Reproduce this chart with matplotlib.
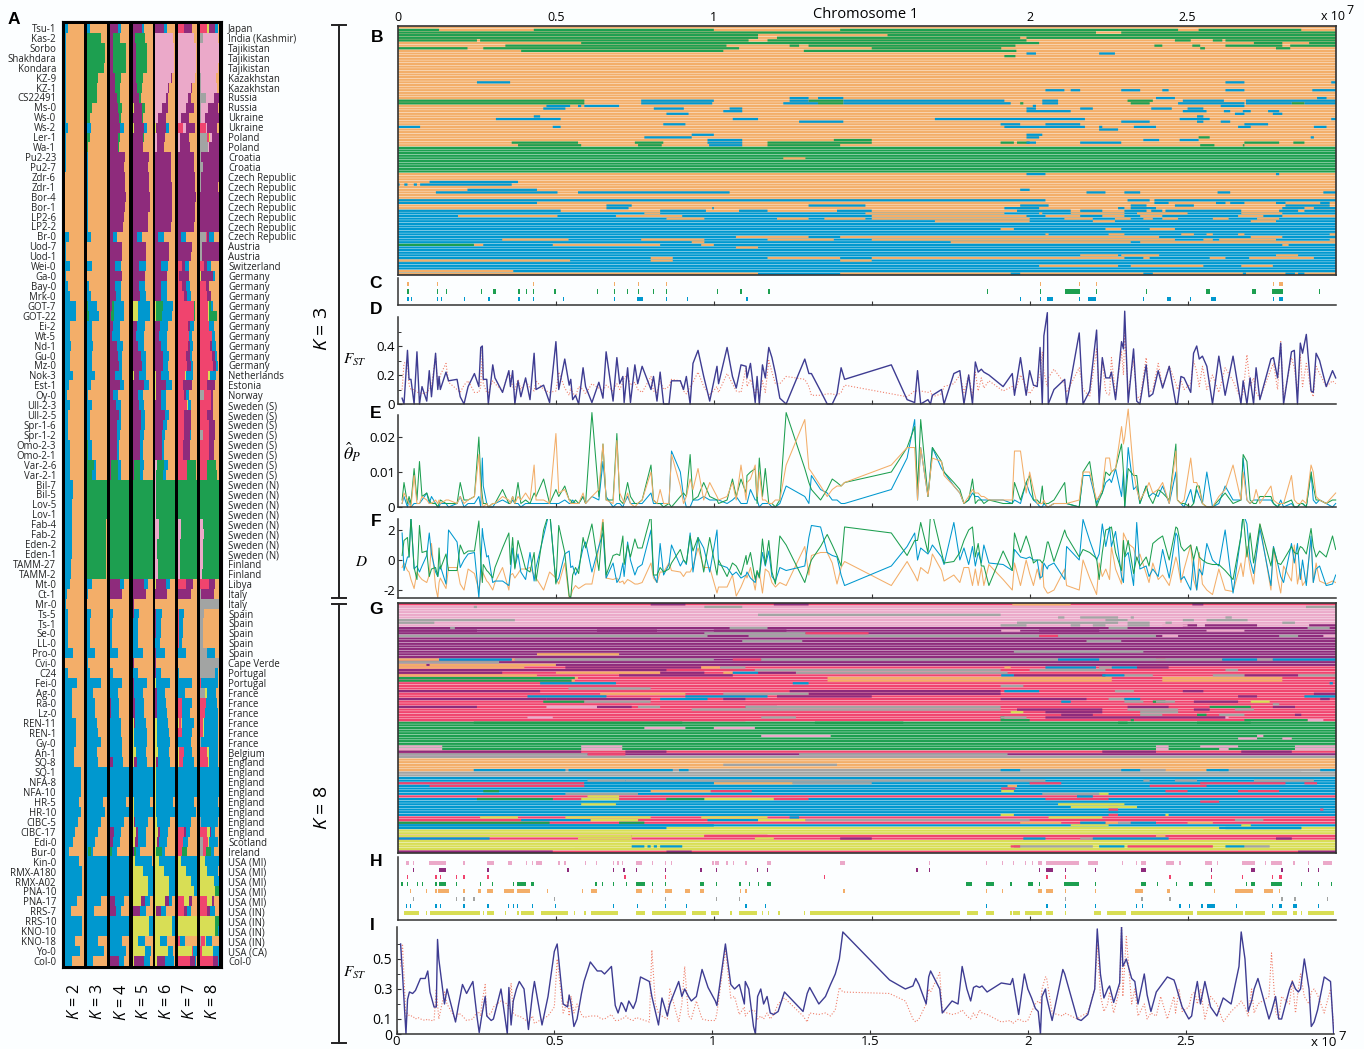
import numpy as np
import matplotlib
matplotlib.use("Agg")
import matplotlib.pyplot as plt
from matplotlib.patches import Rectangle

W, H = 1364, 1049
plt.rcParams['font.family'] = ['Open Sans', 'DejaVu Sans']
plt.rcParams['mathtext.fontset'] = 'custom'
plt.rcParams['mathtext.it'] = 'Open Sans:italic'
plt.rcParams['mathtext.rm'] = 'Open Sans'

ORANGE, BLUE, GREEN = '#F3AE69', '#0098CF', '#1D9F50'
PURPLE, RED, PINK = '#8E2B7C', '#F0446E', '#EBA9C9'
YELLOW, GREY = '#D8DE55', '#A2A4A3'
COL = {'o': ORANGE, 'b': BLUE, 'g': GREEN, 'p': PURPLE, 'r': RED, 'k': PINK, 'y': YELLOW, 'a': GREY}
NAVY, DOTRED = '#3E3C92', '#F0806C'

names = ["Tsu-1","Kas-2","Sorbo","Shakhdara","Kondara","KZ-9","KZ-1","CS22491","Ms-0","Ws-0","Ws-2","Ler-1","Wa-1","Pu2-23","Pu2-7",
"Zdr-6","Zdr-1","Bor-4","Bor-1","LP2-6","LP2-2","Br-0","Uod-7","Uod-1","Wei-0","Ga-0","Bay-0","Mrk-0","GOT-7","GOT-22","Ei-2","Wt-5",
"Nd-1","Gu-0","Mz-0","Nok-3","Est-1","Oy-0","Ull-2-3","Ull-2-5","Spr-1-6","Spr-1-2","Omo-2-3","Omo-2-1","Var-2-6","Var-2-1","Bil-7","Bil-5",
"Lov-5","Lov-1","Fab-4","Fab-2","Eden-2","Eden-1","TAMM-27","TAMM-2","Mt-0","Ct-1","Mr-0","Ts-5","Ts-1","Se-0","LL-0","Pro-0","Cvi-0","C24",
"Fei-0","Ag-0","Ra-0","Lz-0","REN-11","REN-1","Gy-0","An-1","SQ-8","SQ-1","NFA-8","NFA-10","HR-5","HR-10","CIBC-5","CIBC-17","Edi-0","Bur-0",
"Kin-0","RMX-A180","RMX-A02","PNA-10","PNA-17","RRS-7","RRS-10","KNO-10","KNO-18","Yo-0","Col-0"]
countries = ["Japan","India (Kashmir)"] + ["Tajikistan"]*3 + ["Kazakhstan"]*2 + ["Russia"]*2 + ["Ukraine"]*2 + ["Poland"]*2 + ["Croatia"]*2 \
    + ["Czech Republic"]*7 + ["Austria"]*2 + ["Switzerland"] + ["Germany"]*10 + ["Netherlands","Estonia","Norway"] + ["Sweden (S)"]*8 \
    + ["Sweden (N)"]*8 + ["Finland"]*2 + ["Libya"] + ["Italy"]*2 + ["Spain"]*5 + ["Cape Verde"] + ["Portugal"]*2 + ["France"]*6 + ["Belgium"] \
    + ["England"]*8 + ["Scotland","Ireland"] + ["USA (MI)"]*5 + ["USA (IN)"]*4 + ["USA (CA)","Col-0"]

# ancestry shares per accession, written in stacking order, the rest is orange
k2_rows = ["b14","b5","b5","b4","b4","b4","b4","b3","b3","b3","b14","b4","b3","b3","b3","b2","b2","b2","b2","b2","b2","b20","b3","b3","b28","b4","b15","b25","b55","b55","b28","b28",
"b30","b25","b25","b40","b20","b8","b25","b15","b18","b18","b25","b25","b25","b25","b40","b40","b38","b38","b35","b35","b36","b36","b30","b30","b25","b8","b4","b15","b13","b13","b13","b40","b2","b15",
"b60","b35","b38","b38","b55","b58","b58","b48","b48","b83","b83","b83","b70","b83","b65","b52","b40","b22","b70","b86","b90","b90","b63","b33","b90","b90","b52","b78","b35"]
k3_rows = ["b12","g70","g90","g90","g85","g57","g50","g48","g24","g15","b18","g12","g5"] + ["b2"]*8 + ["b20","","","b25","","b10","b20","g5 b45","g8 b50","b25","b22",
"b27","b22","b22","b38","b17","b3","b22","b15","b15","b15","g3 b22","g3 b22","g32 b14","g25 b18"] + ["g100"]*4 + ["g96"]*6 + ["b25","b5","","b18","b16","b16","b16","b38","b3","b16",
"b70","b31","b38","b38","b52","b57","b70","b52","b57","b100","b100","b100","b83","b93","b70","b57","b38","b5 g12 b13","b100","b100","b100","b100","b70","b35","b100","b100","b57","b87","b31"]
k4_rows = ["p40 b15","p14 g38","p14 g67","p14 g67","p14 g67","p26 g30","p26 g26","p34 g20","p40 g20","p48 g7","p52 b20","p43 g9","p40 g5","p78","p72","p78","p78","p83","p80","p72","p69",
"p17 b20","p60","p60","p28 b28","p60","p28 b28","p30 b28","p8 g12 b50","p5 g15 b50","p18 b33","p12 b40",
"p38 b31","p40 b22","p45 b18","p26 b38","p52 b22","p17 b22","p30 b28","p45 b14","p38 b17","p38 b14","p38 b8","p38 b8","p5 g36 b17","p5 g36 b14"] + ["g100"]*4 + ["g96"]*6 + [
"p50 b22","p62","","b14","b12","b12","b12","b40","b2","b14",
"b62","b40","p5 b40","p5 b40","b55","b55","b60","p2 b58","p14 b52","b100","b100","b100","b85","b100","p2 b70","p20 b38","p14 b38","g12 b25","b100","b100","b100","b100","p24 b50","p33 b25","b100","b100","b62","b85","p48 b22"]
k5_rows = ["p45 b13","y3 p9 g47","y3 p12 g58","y3 p12 g58","y3 p12 g58","y3 p15 g32","y3 p20 g22","y3 p27 g13","y5 p42 g13","y3 p45 g5","y8 p48 b15","y2 p48 g5","y2 p50","p80","p78","p82","p82","p85","p85","p78","p75",
"p22 b22","p68","p65","p33 b33","p62","p33 b28","p38 b30","y28 b60","y25 g3 b60","p22 b38","p15 b40",
"y2 p22 b33","y2 p40 b25","p45 b20","y5 p25 b38","y3 p55 b22","y3 p25 b25","p30 b25","p42 b20","p40 b20","p38 b17","p38 b12","p38 b12","y2 p5 g30 b18","y2 p3 g33 b15"] + ["y2 g98"]*10 + [
"y3 p52 b20","y2 p65","p5","p5 b25","p3 b22","p3 b22","p3 b22","p2 b48","p8","p3 b22",
"y2 p3 b65","p8 b42","p12 b42","p12 b45","y8 p3 b55","y5 b65","y8 b65","y15 b50","y8 p14 b50","y3 b97","y3 b97","y3 b97","y5 b82","y5 b95","y8 p3 b68","y14 p12 b42","y12 p14 b42","y3 p2 g12 b20",
"y12 b86","y53 b47","y78 b22","y78 b22","y43 p20 b24","y3 p33 b33","y83 b17","y83 b17","y25 b38","y63 b27","y8 p47 b30"]
k6_rows = ["p43 b17","k90","k95","k95","k95","k80 p3","k65 p5","k55 p12","k33 p30","k17 p38","y5 p48 b15","k12 p40","k8 p38","p80","p80","p80","p83","p85","p85","p83","p80",
"p15 b30","p70","p68","p30 b33","p62","p30 b28","p28 b33","y5 g33 b50","y5 g28 b50","p25 b42","p18 b42",
"p28 b33","p40 b28","p42 b25","y5 p25 b38","y3 p53 b30","y3 p27 b27","p30 b25","p48 b22","p38 b20","p35 b17","p33 b13","p33 b13","k8 g38 b17","k5 g35 b15",
"k3 g97","k3 g97","k3 g97","k3 g97","k20 g80","k20 g80","k12 g88","k12 g88","k17 g83","k17 g83",
"y3 p50 b22","p62","","p3 b30","p3 b25","p3 b25","p2 b25","p3 b48","p3","p3 b28",
"y3 b70","p8 b42","p12 b42","p12 b50","y12 b55","y12 b60","y10 b65","y15 b55","y5 p12 b58","y5 b95","y5 b95","y5 b95","y5 b85","y5 b95","y12 b63","y15 p12 b40","y12 p10 b40","y5 g30 b15",
"y18 b82","y45 b55","y72 b28","y72 b28","y48 p22 b15","y3 p25 b28","y83 b17","y83 b17","y25 b33","y65 b25","y8 p40 b45"]
k7_rows = ["r35 p40","k88","k95","k95","k95","k90","k70 p5","k55 p15","k45 p40","k17 p40","r27 k18 p45","k12 p45","k10 p55","p85","p85","p90","p90","p95","p93","p90","p88",
"p18 b28","p75","p72","r20 p20 b18","r5 p55","r22 p22 b22","r35 p15 b20","r85 g8","r85 g8","r55 p8 b22","r60 b15",
"r52 p15 b15","r45 p20 b8","r50 p20 b8","r40 y5 b35","r30 p45","r35 p8 b15","r50 y3 b15","r35 p35","r33 p35 b3","r33 p30 b5","r30 p35","r30 p35","r50 g45","r50 g45",
"k3 g97","k3 g97","g100","g100","k15 g85","k15 g85","k10 g90","k10 g90","k12 g88","k12 g88",
"r45 p35","p68","","r5 b28","r5 b22","r5 b22","r5 b18","b45","","b5",
"b75","p3 b35","r22 b55","r20 b45","y5 r15 b65","r22 b55","b70","y8 r25 b40","y5 r25 b55","b100","b100","b100","b88","b95","b72","r35 p8 b20","r30 b25","r25 g22 b3",
"y15 b85","y45 b55","y72 b28","y88 b12","r35 y25 p14","r35 p15 b20","y100","y100","r12 b25","y75 r3 b22","r65 p25 b8"]
k8_rows = ["r38 y8 p33 b15","a15 k80","k100","k100","k95","a3 k85","a5 k85","a30 k45 p25","a5 k38 p55","a3 k22 p75","r30 k10 p50","a40 r10 y5 k8 p37","a45 k5 p50","a8 p92","a15 p85","a5 p95","a3 p95","p100","p100","p100","p100",
"a30 r5 y3 p10 b25","a10 p90","a10 p90","r20 p20 b20","y5 p65 b8","r30 p20","r35 p25","r42 y5 g10 b10","r42 y5 g45","r50 b25","r65 b15",
"r55 p10 b22","r65 p15 b10","r70 p15 b10","r45 y8 b30","r40 p40","a22 r35 p15","r60 p10","r40 p30","r50 p30","a15 r35 p30","r50 p25","r50 p25","r40 g45","r35 y3 g55",
"g100","g100","g100","g100","k15 g85","k20 g80","k15 g85","k15 g85","k15 g85","k12 g88",
"r50 p30","a5 y3 p65","a100","a20","a15","a15","a15","a38 b40","a100","a82 b15",
"r5 a3 b90","a25 y10 b50","r30 y3 b60","r25 b70","r15 y5 b75","r18 y5 b75","a5 b90","r40 y8 b50","r45 y5 b48","b100","b100","b100","b97","b100","a8 b90","r40 y15 p5 b20","a15 r30 y5 b45","a15 r15 g30 b15",
"y25 b75","y40 b55","y75 b25","y80 g20","r35 y30 p8","r40 p15 b25","y80 g20","y80 g15 b5","a8 r20 y5 b30","r10 y60 b30","r70 p25 b5"]
k_panels = [k2_rows, k3_rows, k4_rows, k5_rows, k6_rows, k7_rows, k8_rows]
k_labels = ["2", "3", "4", "5", "6", "7", "8"]

# painted chromosomes, K = 3: (accession row, start, end) in units of 1e7
b_row_base = ["o"]*46 + ["g"]*10 + ["o"]*15 + ["b"]*24
b_orange = [(50,1.22,1.29),(71,.78,.83),(71,1.48,1.92),(71,2.03,2.04),(71,2.13,2.3),(71,2.34,2.5),(71,2.67,2.8),(72,.19,.505),(72,.69,.9),(72,1.5,1.99),(72,2.05,2.16),(72,2.23,2.3),(72,2.35,2.42),(72,2.66,2.74),(72,2.8,2.97),
(73,.85,.97),(73,1.2,1.3),(73,1.35,1.48),(73,1.5,2.0),(73,2.11,2.2),(73,2.27,2.32),(73,2.36,2.39),(73,2.42,2.47),(73,2.58,2.63),(73,2.72,2.79),(74,1.7,2.0),(74,2.2,2.27),(74,2.7,2.78),(77,1.908,1.95),(77,2.24,2.29),(77,2.38,2.46),
(79,2.05,2.06),(79,2.25,2.3),(79,2.48,2.52),(79,2.56,2.58),(79,2.66,2.68),(79,2.95,2.97),(80,1.07,1.3),(80,1.4,2.41),(80,2.7,2.8),(81,.33,.54),(81,.77,.97),(81,1.17,1.38),(81,1.5,2.46),(81,2.55,2.58),(81,2.6,2.78),(81,2.95,2.97),
(82,.93,.97),(82,1.75,2.32),(82,2.35,2.97),(83,.24,.27),(83,.49,.83),(83,.96,1.0),(83,2.8,2.82),(84,1.07,1.14),(87,2.16,2.28),(87,2.29,2.41),(87,2.78,2.85),(88,.8,.87),(88,1.17,1.4),(88,1.5,2.3),(88,2.36,2.38),(88,2.57,2.62),(88,2.695,2.9),
(89,0,.545),(89,.8,.87),(89,1.4,1.5),(91,2.03,2.28),(91,2.32,2.55),(91,2.67,2.77),(93,0,.365),(94,0,1.14),(94,1.4,2.97)]
b_green = [(1,0,.13),(1,.43,1),(1,1.4,2.47),(1,2.535,2.86),(2,0,2.21),(2,2.29,2.97),(3,0,1.14),(3,1.55,2.97),(4,0,1.14),(4,1.2,1.97),(4,1.99,2.97),(5,0,.25),(5,.26,1.11),(5,1.17,1.99),(5,2.46,2.51),(5,2.58,2.61),(5,2.62,2.97),
(6,.58,2.03),(6,2.71,2.8),(6,2.885,2.97),(7,.34,1.04),(7,1.24,1.27),(7,1.3,1.955),(7,2.395,2.42),(7,2.515,2.54),(7,2.62,2.8),(7,2.825,2.97),(8,0,.22),(8,.27,1.08),(8,1.5,1.91),(8,2.54,2.555),(8,2.78,2.825),(9,.39,1.03),(9,1.285,1.958),(11,1.92,1.955),
(28,0,.59),(28,1.3,1.41),(28,2.31,2.39),(29,0,.59),(29,1.33,1.41),(29,1.97,1.98),(29,2.32,2.38),(29,2.83,2.87),(42,2.535,2.57),(43,1.38,1.5),(44,.36,.57),(44,.75,.84),(44,1.17,1.5),(44,1.908,1.95),(44,1.96,2.0),(44,2.68,2.79),(44,2.835,2.87),
(45,.38,.58),(45,.76,.835),(45,1.17,1.4),(45,2.54,2.585),(45,2.675,2.68),(83,0,.24)]
b_blue = [(10,1.99,2.02),(10,2.22,2.27),(21,.25,.355),(21,2.62,2.68),(21,2.955,2.97),(24,2.05,2.11),(24,2.13,2.16),(24,2.29,2.35),(24,2.42,2.44),(24,2.62,2.68),(24,2.895,2.97),(27,1.24,1.3),(27,1.33,1.41),(27,2.4,2.46),(27,2.91,2.94),
(28,.77,1.0),(28,1.24,1.3),(28,1.41,1.92),(28,2.04,2.09),(28,2.485,2.615),(28,2.685,2.97),(29,.77,.995),(29,1.22,1.33),(29,1.41,1.94),(29,2.04,2.09),(29,2.47,2.68),(29,2.685,2.83),(29,2.87,2.97),(30,.47,.545),(30,.57,.58),(30,.59,.7),(30,2.01,2.02),(30,2.605,2.68),
(31,.46,.53),(31,.81,.905),(31,1.05,1.09),(31,1.99,2.02),(31,2.16,2.2),(31,2.385,2.45),(31,2.5,2.55),(32,1.03,1.09),(32,1.99,2.13),(32,2.485,2.56),(32,2.615,2.635),(32,2.675,2.7),(32,2.755,2.79),(33,.85,.92),(33,2.65,2.68),(33,2.77,2.8),(34,.43,.45),(34,2.53,2.55),
(35,.31,.515),(35,1.06,1.14),(35,1.7,2.175),(35,2.475,2.57),(35,2.955,2.97),(36,1.27,1.41),(36,2.29,2.38),(36,2.53,2.55),(36,2.605,2.635),(37,.84,.91),(37,1.908,1.97),(37,2.05,2.16),(37,2.68,2.755),(38,0,.07),(38,.49,.515),(38,1.92,2.175),(38,2.22,2.23),(38,2.33,2.4),(38,2.66,2.7),(38,2.9,2.94),
(39,2.22,2.28),(41,.93,1.0),(41,1.99,2.04),(42,.78,.93),(42,1.99,2.03),(42,2.89,2.9),(43,.98,1.09),(43,2.36,2.41),(43,2.475,2.535),(44,.98,1.09),(44,1.99,2.02),(44,2.16,2.29),(45,.985,1.09),(56,1.99,2.05),(56,2.78,2.79),
(59,.1,.38),(60,0,.005),(60,.02,.03),(60,.05,.06),(60,.07,.36),(62,.22,.44),(62,1.97,2.0),(63,.12,.505),(63,.57,1.05),(63,2.18,2.24),(63,2.3,2.35),(63,2.595,2.635),(63,2.93,2.97),
(66,0,2.05),(66,2.31,2.38),(66,2.395,2.97),(67,0,.44),(67,2.395,2.44),(67,2.59,2.62),(67,2.635,2.68),(67,2.78,2.81),(67,2.92,2.95),(68,.66,.74),(68,1.3,1.48),(68,1.97,2.06),(68,2.32,2.37),(68,2.46,2.52),(68,2.81,2.95),
(69,.66,.73),(69,.995,1.0),(69,1.92,2.03),(69,2.28,2.3),(69,2.32,2.4),(69,2.8,2.87),(69,2.9,2.97),(70,0,.515),(70,.83,.975),(70,1.08,1.17),(70,1.39,1.5),(70,1.96,2.13),(70,2.16,2.23),(70,2.3,2.37),(70,2.385,2.42),(70,2.43,2.67),(70,2.79,2.85),(70,2.87,2.97),
(94,1.94,1.97),(94,2.36,2.39),(94,2.675,2.685),(94,2.81,2.84),(94,2.85,2.87)]

# painted chromosomes, K = 8
g_row_base = list("r" + "k"*8 + "p"*15 + "r"*21 + "g"*11 + "rpa" + "oooo" + "aaa" + "b"*7 + "r" + "b"*7 + "rrr" + "b" + "yyy" + "rr" + "yyyy" + "r")
g_purple = [(0,.8,.91),(0,1.19,1.3),(0,2.515,2.55),(8,2.485,2.53),(8,2.555,2.72),(8,2.885,2.97),(10,0,.25),(10,.63,.82),(10,1.0,1.23),(10,2.03,2.22),(25,0,.85),(26,0,.33),(26,.83,.97),(26,1.14,1.26),(27,.7,1.06),(27,1.95,2.24),(27,2.68,2.85),
(24,.53,.96),(24,2.34,2.44),(33,0,.45),(33,1.24,1.908),(33,2.485,2.55),(34,1.3,1.908),(34,2.9,2.97),(35,1.2,1.5),(35,2.66,2.72),(36,0,.47),(36,.47,.8),(36,1.03,1.1),(36,1.908,2.18),(36,2.92,2.95),(37,2.52,2.66),
(39,0,.25),(39,.63,.74),(39,1.1,1.2),(39,2.31,2.44),(39,2.77,2.84),(40,1.96,2.23),(40,2.52,2.57),(41,2.05,2.23),(42,2.1,2.2),(42,2.84,2.86),(43,2.05,2.62),
(56,0,.58),(56,.72,.85),(56,2.23,2.4),(56,2.67,2.83),(89,2.78,2.83),(89,1.4,1.5),(94,0,.49),(94,.85,.93),(94,2.85,2.97)]
g_red = [(11,1.29,1.49),(12,2.03,2.09),(21,1.06,1.15),(21,2.4,2.43),(44,0,1.1),(57,.6,.72),(68,0,.59),(68,2.0,2.1),(68,2.54,2.81),(68,2.87,2.91),(69,.1,.59),(69,2.38,2.56),(70,1.91,1.955),
(71,.99,1.12),(71,2.43,2.5),(71,2.66,2.79),(74,.49,.58),(74,.7,.85),(74,1.19,1.3),(74,2.05,2.25),(77,2.25,2.28),(78,2.25,2.28),(78,2.92,2.93),(75,2.54,2.6),(80,2.25,2.28)]
g_pink = [(10,1.91,1.97),(10,2.56,2.68),(12,2.42,2.47),(12,2.93,2.97),(8,2.42,2.5),(39,.47,.63),(43,.41,.49),(43,2.62,2.63),(44,2.88,2.93),(47,.78,.91),(47,1.0,1.13),(50,1.15,1.37),(50,2.72,2.74),(51,2.66,2.72),(51,2.8,2.83),
(54,0,.14),(54,.58,.71),(54,2.4,2.44),(54,2.54,2.66),(54,2.84,2.97),(55,0,.14),(55,.58,.71),(55,2.4,2.44),(55,2.6,2.63),(55,2.84,2.97)]
g_green = [(28,0,.56),(29,0,.55),(37,.46,.59),(37,2.39,2.43),(39,2.57,2.7),(42,2.53,2.56),(43,1.908,1.92),(44,1.908,2.0),(44,2.32,2.33),(44,2.68,2.88),(45,.24,.9),(45,1.32,1.6),(45,2.28,2.31),(45,2.53,2.7),(71,.27,.32),(74,.25,.49),(74,.85,.97),(83,0,.48),(83,.7,.78)]
g_orange = [(0,1.945,2.13),(19,.44,.7),(21,0,.13),(21,.36,.37),(23,0,.09),(23,.1,.5),(24,0,.4),(24,.96,1.02),(24,1.92,1.94),(26,.5,.83),(26,1.03,1.06),(27,0,.44),(28,.56,.57),(28,1.36,2.26),(28,2.42,2.8),(29,.55,.56),(29,1.36,2.26),(29,2.42,2.8),
(34,.64,.91),(63,0,.24),(63,2.43,2.56),(68,1.0,1.25),(69,1.93,1.96),(71,.8,.99),(83,1.97,2.1),(83,2.24,2.28),(83,2.5,2.58),(88,2.4,2.43)]
g_grey = [(1,.24,.25),(1,.97,1.09),(1,2.875,2.97),(4,1.14,1.908),(5,2.09,2.11),(5,2.16,2.28),(5,2.32,2.33),(5,2.62,2.64),(6,0,.37),(6,2.24,2.31),(6,2.485,2.52),(6,2.56,2.69),(7,0,.115),(7,1.96,2.28),(7,2.31,2.38),(7,2.43,2.45),(7,2.8,2.84),
(8,1.908,1.99),(8,2.13,2.16),(8,2.2,2.24),(8,2.31,2.38),(9,.165,.18),(9,1.05,1.17),(9,2.25,2.31),(9,2.88,2.95),(11,.97,1.29),(12,0,.98),(12,1.11,2.03),(12,2.09,2.4),(12,2.79,2.85),(14,1.09,1.28),(14,2.18,2.29),(18,1.95,2.36),(21,.37,1.0),(21,1.15,2.09),(21,2.22,2.61),(21,2.72,2.77),(22,0,.32),
(24,1.02,1.1),(24,2.22,2.26),(25,1.13,1.908),(25,2.0,2.24),(25,2.62,2.66),(26,1.26,1.93),(27,2.3,2.39),(27,2.58,2.68),(27,2.85,2.97),(31,1.908,1.98),(32,.54,.8),(33,2.27,2.33),(34,1.03,1.3),(36,2.25,2.3),(37,.59,.8),(37,2.3,2.36),(37,2.4,2.46),(38,2.77,2.79),(39,.76,.83),(39,1.1,1.908),(40,.93,1.908),(40,2.31,2.47),(40,2.65,2.71),(41,2.35,2.47),(42,2.35,2.42),(42,2.6,2.68),(43,1.15,1.26),(43,1.908,1.99),
(57,0,.6),(57,1.27,1.93),(61,1.03,1.39),(63,1.05,2.0),(63,2.0,2.43),(63,2.6,2.86),(67,.6,.72),(67,.72,2.05),(67,2.36,2.38),(67,2.46,2.53),(67,2.71,2.9),(68,1.25,1.5),(72,.53,.76),(72,2.04,2.22),(82,1.29,2.0),(82,2.65,2.74),(83,2.28,2.32),(92,1.95,2.2),(92,2.68,2.76),(89,2.16,2.2)]
g_blue = [(21,.13,.36),(21,2.09,2.22),(21,2.61,2.72),(21,2.77,2.97),(24,2.05,2.21),(24,2.26,2.34),(26,1.06,1.14),(27,1.91,1.95),(27,2.23,2.3),(30,.45,.69),(30,1.25,1.3),(30,2.95,2.96),(33,1.92,2.03),(35,.41,.66),(35,.91,1.17),(35,2.87,2.97),(36,.83,.98),(36,2.3,2.35),(37,2.1,2.13),(63,.24,.53),(63,.54,.87),(63,.89,.92),(63,1.908,1.97),(63,2.29,2.35),(63,2.56,2.63),(63,2.92,2.97),
(68,.59,1.0),(73,2.15,2.2),(81,1.24,1.27),(82,.39,.61),(82,.98,1.14),(83,2.16,2.24),(83,2.32,2.4),(89,0,.29),(89,1.98,2.05),(89,2.2,2.44),(92,.74,.78),(92,.79,.8),(92,.81,.82),(92,.83,.9),(92,2.22,2.3),(92,2.62,2.68),(85,2.6,2.86)]
g_yellow = [(37,2.7,2.76),(41,1.94,1.98),(76,.58,.69),(76,2.09,2.3),(77,2.13,2.34),(74,.58,.7),(74,.97,1.19),(71,1.91,1.95),(72,2.22,2.25),(73,.6,.7),(80,1.908,1.95),(80,2.43,2.44),(81,.26,.38),(81,.53,.8),(81,.96,1.17),(81,2.06,2.23),(82,.61,.76),(82,1.14,1.29),(84,2.13,2.25),(84,2.67,2.7),
(88,.74,.97),(88,0,.74),(89,.57,.74),(89,1.13,1.19),(93,.56,2.97)]
g_red2 = [(88,.97,1.17),(92,1.94,1.97),(92,2.31,2.58)]
g_layers = [(g_purple,'p'),(g_red,'r'),(g_pink,'k'),(g_green,'g'),(g_orange,'o'),(g_grey,'a'),(g_blue,'b'),(g_yellow,'y'),(g_red2,'r')]
g_blue_over_base = [(85,0,.85),(85,2.62,2.86),(84,0,1.0)]

# fixed-window blocks, tuples are wider blocks
c_orange = [.03,.122,.426,.684,.759,.848,2.032,2.155,2.21,2.77,(2.79,2.803)]
c_green = [.03,.122,.152,.262,(.3,.31),.381,.406,.426,.495,.63,.684,.725,.759,.807,.848,1.009,1.084,1.173,1.865,2.032,(2.112,2.159),2.209,2.367,(2.557,2.57),(2.705,2.717),(2.768,2.803),2.915]
c_blue = [.03,.041,.122,.136,.209,.286,.381,.426,.521,.684,(.757,.776),.848,.914,1.103,1.969,2.032,(2.054,2.075),2.155,(2.186,2.211),2.358,(2.436,2.447),2.507,(2.575,2.59),2.769,(2.79,2.803)]
c_series = [(c_orange,ORANGE),(c_green,GREEN),(c_blue,BLUE)]
h_pink = [(.025,.036),.048,(.097,.152),.207,(.281,.304),(.348,.361),.404,.423,(.437,.457),.508,.527,.591,.627,.68,.695,.709,(.754,.774),.804,.844,.865,.995,(1.005,1.016),1.04,1.06,1.1,(1.169,1.182),(1.398,1.414),1.68,1.862,1.912,1.946,1.984,2.007,(2.026,2.039),(2.051,2.156),(2.185,2.217),2.293,2.336,(2.354,2.367),(2.433,2.458),2.474,(2.554,2.577),2.593,(2.671,2.714),2.745,(2.765,2.799),2.835,2.882,(2.93,2.956)]
h_purple = [.048,(.131,.152),.283,.536,.68,.714,.754,.844,.957,1.006,1.137,1.169,1.641,1.68,2.029,(2.051,2.073),2.111,2.206,(2.354,2.367),2.574,(2.702,2.714),2.797,2.882,2.912]
h_red = [.029,.118,.133,.184,.207,.283,.717,.845,1.349,2.053,2.111,2.442,2.574,2.673,2.767,(2.788,2.8)]
h_green = [.011,.027,.059,.076,.118,(.131,.152),.184,.259,.298,.363,(.377,.405),(.422,.432),.625,.646,.68,.722,(.754,.783),.804,.845,(.957,.97),1.006,1.081,1.11,1.139,(1.169,1.182),(1.8,1.817),(1.861,1.888),1.939,(1.995,2.011),2.029,(2.109,2.156),2.206,(2.354,2.367),2.403,2.464,(2.503,2.516),(2.554,2.577),2.684,(2.702,2.714),(2.765,2.799),2.859,2.912,2.953]
h_orange = [.038,.089,.118,(.127,.163),.207,(.252,.262),(.281,.3),(.337,.367),(.377,.418),.472,.583,(.61,.629),(.754,.773),.804,(.844,.869),(.91,.924),(.957,.97),1.082,1.1,1.41,1.862,1.912,(2.026,2.039),(2.051,2.073),2.111,2.206,(2.332,2.358),(2.434,2.443),2.584,(2.65,2.706),(2.743,2.769),2.788]
h_grey = [.048,.184,.207,.239,.494,.845,1.006,1.08,2.111,2.354,2.442,2.797,2.838,2.94]
h_blue = [.025,.038,.118,.133,.207,.283,.349,.363,.377,.425,.497,.68,.756,.845,.912,1.1,1.161,1.862,2.053,2.111,2.206,2.336,2.355,2.474,2.504,2.544,(2.563,2.586),2.652,2.767,(2.788,2.799),(2.834,2.845),2.912]
h_yellow = [(.019,.066),.089,(.102,.26),.268,(.282,.304),.339,.378,(.391,.431),(.454,.537),.557,.59,(.61,.698),(.754,.783),(.803,.913),(.93,.976),(.992,1.016),1.052,(1.079,1.138),1.152,1.171,1.204,1.285,(1.303,1.779),(1.802,1.835),(1.862,1.888),1.939,(1.948,1.968),(1.984,2.039),(2.051,2.073),2.111,(2.205,2.226),(2.244,2.305),(2.321,2.516),(2.531,2.675),(2.681,2.745),(2.766,2.815),(2.834,2.845),2.859,(2.88,2.965)]
h_series = [(h_pink,PINK),(h_purple,PURPLE),(h_red,RED),(h_green,GREEN),(h_orange,ORANGE),(h_grey,GREY),(h_blue,BLUE),(h_yellow,YELLOW)]

# window positions, 1e-3 of 1e7 bp, shared by D, E, F, I
win_x = [13,19,30,35,41,51,60,68,76,91,
99,106,119,126,130,134,152,160,187,197,
209,222,242,256,262,267,270,281,286,300,
307,331,351,356,363,370,380,389,404,418,
431,437,461,480,500,509,528,542,547,553,
562,572,586,594,614,636,649,659,681,693,
702,712,716,727,736,750,759,773,801,809,
820,830,841,858,866,894,904,913,925,934,
950,968,987,1010,1015,1042,1059,1071,1086,1102,
1105,1116,1131,1137,1144,1154,1163,1174,1184,1195,
1209,1229,1288,1301,1309,1338,1359,1375,1390,1403,
1414,1562,1612,1636,1645,1655,1678,1686,1692,
1721,1729,1760,1779,1792,1807,1819,1828,1837,1847,
1855,1871,1916,1945,1952,1971,1989,2000,2012,2024,
2033,2040,2045,2056,2059,2077,2111,2117,2157,2169,
2190,2212,2220,2230,2241,2253,2259,2272,2291,2297,
2301,2312,2329,2339,2349,2369,2378,2390,2407,2421,
2442,2463,2468,2479,2489,2510,2519,2529,2537,2547,
2561,2579,2599,2619,2644,2669,2676,2688,2698,2709,
2717,2729,2764,2772,2785,2795,2804,2829,2838,2848,
2857,2864,2876,2891,2898,2907,2918,2939,2959,2969]

# D, FST in 1e-2
d_fst = [4,0,37,17,17,0,36,0,12,2, 23,5,35,10,19,10,22,16,17,5, 0,12,21,12,39,40,17,17,0,27, 18,8,23,12,23,0,16,5,18,3,
35,10,13,1,43,10,31,13,17,3, 6,0,25,12,1,15,4,36,2,32, 14,19,1,25,1,27,14,26,10,19, 2,22,0,0,16,16,10,19,0,28,
37,19,2,26,14,39,19,11,27,26, 18,28,1,19,0,27,18,39,32,21, 4,0,31,21,21,9,0,0,7,25, 17,27,3,1,23,0,3,0,6,
10,0,21,23,0,20,0,29,22,24, 22,20,12,21,6,32,6,23,13,12, 39,0,47,63,0,10,17,0,49,0, 9,51,0,32,18,18,22,3,43,38,
64,1,38,2,0,27,5,7,23,11, 26,0,0,19,18,8,35,40,31,33, 26,0,33,6,33,0,16,0,18,0, 25,3,31,32,18,42,0,36,37,0, 42,35,48,9,8,35,30,12,23,18]
d_fst_dot = [10,28,30,13,10,10,8,8,7,8, 10,12,33,12,15,20,28,15,10,8, 13,16,8,8,12,38,14,8,8,16, 14,9,22,19,12,10,17,10,16,11,
9,16,10,8,9,22,11,6,11,8, 5,12,10,7,14,11,9,13,9,14, 10,15,18,20,13,15,10,8,19,9, 8,16,10,12,17,16,9,7,12,15,
22,12,6,12,8,21,14,9,8,25, 12,17,7,12,4,16,8,30,22,14, 14,19,17,12,6,6,7,7,6,8, 13,7,5,9,9,9,8,9,5,
7,12,14,20,8,20,6,22,9,18, 11,16,9,12,8,20,12,7,11,15, 20,36,22,12,18,24,14,8,25,10, 5,38,5,30,8,6,32,6,36,20,
50,8,30,6,3,32,8,10,28,12, 26,14,10,16,10,14,30,22,12,26, 10,20,8,25,16,3,8,34,12,18, 8,4,24,28,10,43,3,32,25,8, 34,12,28,9,5,26,21,12,16,14]

# E, theta in 1e-3
e_green = [2,7,1,3,1,11,2,13,3,4, 2,1,1,0,1,2,1,1,1,7, 2,2,3,20,8,3,1,1,0,1, 1,5,1,1,3,1,7,1,2,1,
4,3,8,1,5,3,6,2,2,1, 2,1,3,1,27,3,18,2,2,21, 2,1,2,7,3,1,1,2,12,2, 1,1,0,1,0,3,4,3,15,2,
3,7,3,2,1,2,8,3,8,4, 9,10,11,1,14,3,11,1,1,0, 2,27,11,7,5,2,5,8,7,6, 7,10,17,23,5,25,3,10,17,
13,10,7,5,1,2,8,1,2,2, 1,2,1,1,7,2,7,9,2,2, 1,6,1,1,1,2,7,1,0,10, 13,0,2,4,10,9,10,11,18,10,
0,11,9,9,1,6,3,1,5,4, 2,18,2,1,1,0,1,6,6,1, 0,0,2,4,1,2,15,13,2,1, 1,3,3,1,0,1,1,2,0,0, 1,1,0,10,6,2,2,1,2,2]
e_blue = [1,3,0,2,0,1,1,1,2,4, 1,3,1,0,0,1,1,0,1,3, 0,1,1,3,0,14,6,1,0,0, 1,2,1,1,2,1,1,0,1,1,
1,1,1,1,1,1,2,1,1,2, 1,1,3,1,3,2,13,3,0,1, 1,0,1,3,1,1,1,1,4,1, 1,1,1,1,16,10,3,0,0,2,
2,3,2,2,2,1,2,3,1,1, 1,5,2,2,0,1,1,1,0,0, 1,6,3,1,9,5,4,2,2,1, 1,5,14,25,2,17,3,11,17,
11,10,6,4,1,2,4,3,3,2, 2,2,2,1,2,1,7,4,2,1, 0,0,1,0,0,1,1,1,0,9, 9,1,3,4,7,8,7,11,3,10,
0,17,5,6,1,6,3,4,3,6, 1,10,2,1,0,5,1,5,3,1, 10,0,1,6,2,2,14,2,1,2, 2,2,2,1,0,2,0,1,0,0, 1,1,0,10,2,1,2,1,0,1]
e_orange = [1,4,2,1,0,9,1,1,3,2, 1,1,2,1,2,1,2,2,1,3, 1,2,3,15,5,1,0,1,0,1, 1,3,2,1,3,1,3,2,4,2,
12,2,2,1,21,4,5,2,1,1, 1,1,4,1,3,5,18,2,1,19, 4,2,1,4,1,0,1,2,10,2, 1,5,1,1,15,6,1,3,8,5,
11,2,7,3,2,3,7,2,12,2, 7,8,12,3,10,2,2,1,1,2, 2,12,25,11,10,6,3,5,6,6, 7,12,17,17,2,17,3,10,14,
13,9,6,4,1,3,5,4,4,3, 3,2,2,2,16,16,4,10,5,1, 1,1,2,0,0,1,1,1,2,10, 10,2,3,5,14,14,10,11,23,18,
20,28,10,5,2,5,7,4,5,7, 1,16,2,1,2,14,7,7,5,1, 0,0,3,5,12,2,10,2,1,2, 5,1,6,2,1,1,1,9,2,1, 1,2,1,12,10,3,2,1,3,4]

# F, Tajima's D in 1e-1
f_green = [3,13,15,2,28,-5,-13,23,5,6, -11,-6,-5,-11,8,-6,4,-7,-7,10, 4,6,6,26,0,-15,-3,-7,-8,-12, -5,8,18,-3,15,-6,13,6,-6,-8,
5,-14,20,33,-16,23,5,-24,-25,-10, -5,-9,15,8,24,-7,25,-10,3,4, 3,16,-3,10,2,14,8,8,30,-10, -10,-5,-8,-6,-2,7,0,-2,16,6,
15,-8,15,-10,0,-11,-2,-4,-10,3, -3,5,-13,-7,-12,14,-3,13,-8,-16, 16,10,-15,-5,0,9,17,10,3,-4, 22,18,3,13,13,25,5,30,31,
5,-2,-1,5,13,20,22,2,11,-4, -4,-17,6,-7,18,5,16,9,-2,0, 0,-2,0,12,12,-1,20,16,2,7, 5,1,-13,5,20,21,22,5,-7,13,
2,13,-9,2,-4,2,-4,11,14,16, 0,22,21,9,6,10,0,9,2,0, -2,-3,-3,-7,-13,16,31,2,18,-2, 8,24,-4,8,-2,-3,0,9,5,4, 9,8,4,21,9,2,6,2,16,7]
f_blue = [18,-7,2,2,29,-6,-4,-8,-4,3, 18,4,-8,-11,-6,-4,-16,20,12,-5, 0,4,5,-25,-5,21,15,2,3,-15, -14,-14,-17,-8,8,-5,4,-8,-13,5,
-14,-5,16,33,-15,-12,4,6,-5,-4, -10,-5,8,12,-8,9,18,-12,-2,-15, -12,-2,-11,12,0,-10,-5,-3,20,-10, -15,11,-10,-3,10,-4,0,-3,18,-8,
15,8,-8,20,-3,-5,-10,-8,-12,-10, -8,-12,-15,-8,-11,5,-4,6,-11,-14, -5,-7,-4,15,23,22,5,3,2,-10, -17,-4,9,18,0,8,4,7,10,
2,-3,25,0,8,-3,9,-4,5,-2, 10,-2,-3,-7,7,2,1,2,0,0, -12,-11,-2,-6,-4,-2,-13,9,0,27, 13,0,4,24,9,22,9,19,-11,-15,
2,5,-17,25,-6,-4,-11,-6,-11,7, -12,18,16,-13,-11,-20,0,-20,-6,-10, 11,0,-4,20,-22,16,31,24,0,-9, 2,21,-17,9,-2,-11,-15,11,-2,11, -13,0,-17,16,-15,-6,-4,-17,-16,-10]
f_orange = [-5,-2,-7,-8,-13,-19,-8,-11,-13,-15, -10,11,-18,-25,-15,-12,-19,-5,-5,-16, -20,-6,-9,-20,-12,-8,-9,-14,-15,-20, -15,-5,-20,-10,-9,-12,-9,-6,-6,-5,
-10,-12,-20,-8,-12,-16,-2,-25,-24,-20, -17,-19,-17,-16,-16,8,28,-12,-13,-12, -15,-14,-16,-13,-14,-16,-16,-15,-2,-12, -15,-8,-8,-2,-7,-8,-11,-8,-8,-4,
8,-5,-5,-22,-18,-18,-10,-24,-18,-10, -12,-5,-20,-10,-8,-22,-6,-8,-15,-18, -15,-17,9,-10,3,5,5,-2,-16,-5, -1,-17,-1,-10,-14,-5,-9,-3,4,
-7,-14,-10,-15,-5,-5,-17,-6,-17,-5, -17,-3,-13,-20,-2,-17,0,-9,-17,-6, -13,-2,-18,-22,-22,-20,-6,-17,-20,0, -12,-23,-2,-11,-6,-13,9,-6,-16,18,
16,11,8,0,4,-9,-15,-2,-13,-10, -17,2,-2,-15,-6,10,-13,-20,5,-16, -20,-23,-6,-20,-21,-2,-11,9,-6,-16, 2,24,-20,9,-12,-22,-4,-14,10,-16, -6,-17,-13,13,-15,-2,-14,-16,-14,-15]

# I, FST for K = 8 in 1e-2
i_fst = [60,40,0,23,28,27,29,33,37,37, 42,28,18,18,63,50,20,30,8,20, 33,27,35,10,1,8,12,25,12,9, 10,30,0,31,6,22,30,35,30,3,
27,35,6,25,55,60,20,18,26,20, 5,10,27,35,48,42,42,40,45,19, 14,21,20,15,22,17,22,38,35,25, 15,6,24,12,20,35,25,30,25,22,
25,43,31,22,19,60,33,30,33,20, 35,30,5,0,25,30,20,25,14,13, 15,28,15,27,31,20,25,33,40,50, 68,36,30,32,37,33,20,38,42,
30,14,22,20,45,30,22,31,32,31, 32,28,34,33,37,13,40,30,24,17, 15,0,25,30,25,9,43,40,10,9, 13,30,70,40,24,30,32,21,34,72,
45,50,37,35,20,40,26,15,28,32, 38,36,33,25,18,10,12,26,35,20, 35,18,12,24,20,45,68,50,15,22, 30,37,10,15,25,10,10,30,35,30, 28,30,50,30,5,8,16,38,35,0]
i_fst_dot = [45,60,10,14,12,12,10,11,10,9, 10,9,9,30,20,10,28,20,10,14, 12,9,10,15,14,12,20,33,12,14, 18,22,20,16,34,14,12,12,10,8,
12,7,10,12,18,50,14,22,12,25, 14,20,13,11,12,12,10,10,13,9, 9,10,10,12,10,9,11,10,8,56, 20,14,12,10,30,8,20,45,12,10,
22,10,9,9,14,56,24,25,13,18, 12,15,16,15,10,12,10,14,10,13, 20,24,12,8,14,13,14,12,16,31, 28,27,22,10,8,10,20,30,28,
41,15,13,14,16,12,10,14,11,16, 14,13,8,9,7,10,8,9,15,20, 22,20,30,38,38,14,12,14,10,12, 14,30,60,26,15,20,28,14,30,74,
25,65,20,30,12,20,10,14,12,25, 10,25,14,30,15,18,26,28,20,30, 10,25,20,8,15,20,22,18,12,30, 14,20,25,54,15,10,25,20,36,14, 30,40,25,20,28,30,26,14,30,5]

XMAX = 2.97
BG = '#FCFEFF'
fig = plt.figure(figsize=(W/100, H/100), dpi=100, facecolor=BG)


def box(l, t, r, b, **kw):
    return fig.add_axes([l/W, 1-b/H, (r-l)/W, (b-t)/H], **kw)


def ftext(x, y, s, **kw):
    kw.setdefault('ha', 'center')
    kw.setdefault('va', 'center')
    return fig.text(x/W, 1-y/H, s, **kw)


def parse(row):
    return [(p[0], float(p[1:])) for p in row.split()]


def paint(ax, base, layers):
    rows = np.arange(len(base))
    bars = ax.barh(rows, XMAX, height=0.86, color=[COL[c] for c in base], linewidth=0)
    for b in bars:
        b.set_snap(False)
    for segs, c in layers:
        if segs:
            bars = ax.barh([s[0] for s in segs], [s[2]-s[1] for s in segs], left=[s[1] for s in segs],
                           height=0.86, color=COL[c], linewidth=0)
            for b in bars:
                b.set_snap(False)
    ax.set_xlim(0, XMAX)
    ax.set_ylim(len(base)-.5, -.5)
    ax.set_yticks([])
    ax.set_facecolor('white')
    for s in ax.spines.values():
        s.set_color('#333333')
        s.set_linewidth(1.2)


def blocks(ax, row, items, color):
    for it in items:
        s, e = it if isinstance(it, tuple) else (it, it+.004)
        ax.barh(row, e-s, left=s, height=.55, color=color, linewidth=0)


def spine_style(ax):
    ax.set_facecolor('none')
    ax.spines['top'].set_visible(False)
    ax.spines['right'].set_visible(False)
    for s in ('left', 'bottom'):
        ax.spines[s].set_color('#333333')
        ax.spines[s].set_linewidth(1.1)
    ax.set_xlim(0, XMAX)
    ax.set_xticks([.5, 1, 1.5, 2, 2.5])
    ax.set_xticklabels([])
    ax.tick_params(direction='in', length=3, width=.8, color='#333333', labelsize=9.5, pad=2)
    ax.tick_params(which='minor', direction='in', length=2, width=.7, color='#333333')


#--- A: structure bars ---#
bg = box(62, 21, 221.5, 967.5)
bg.set_facecolor('black')
bg.set_xticks([])
bg.set_yticks([])
panel_x = [(65, 84.3), (87.3, 106.7), (110, 129.3), (132.7, 152.7), (155, 175), (177.7, 196.7), (200, 218.7)]
label_x = [75, 98, 122, 144, 167, 190, 213]
for rows, (l, r), lab, lx in zip(k_panels, panel_x, k_labels, label_x):
    ax = box(l, 23.5, r, 965.5)
    ax.set_facecolor(ORANGE)
    for i, row in enumerate(rows):
        left = 0
        for c, v in parse(row):
            ax.barh(i, v, left=left, height=1.0, color=COL[c], linewidth=0)
            left += v
    ax.set_xlim(0, 100)
    ax.set_ylim(len(rows)-.5, -.5)
    ax.axis('off')
    ax.add_patch(Rectangle((0, -.5), 100, 95, facecolor=ORANGE, zorder=0))
    ftext(lx, 1002, r'$\mathit{K}$ = ' + lab, rotation=90, fontsize=11.5)

for i, (n, c) in enumerate(zip(names, countries)):
    y = 29.5 + 9.925*i
    ftext(56, y, n, ha='right', fontsize=6.9, color='#222222')
    ftext(228, y, c, ha='left', fontsize=6.9, color='#222222')

#--- B ---#
ax_b = box(398, 26, 1336, 275)
paint(ax_b, b_row_base, [(b_orange, 'o'), (b_green, 'g'), (b_blue, 'b')])
ax_b.xaxis.tick_top()
ax_b.set_xticks([0, .5, 1, 2, 2.5])
ax_b.set_xticklabels(["0", "0.5", "1", "2", "2.5"], fontsize=9)
ax_b.tick_params(axis='x', length=0, pad=1.5)

#--- C ---#
ax_c = box(398, 278, 1336, 305)
spine_style(ax_c)
for i, (items, col) in enumerate(c_series):
    blocks(ax_c, i, items, col)
ax_c.set_ylim(2.82, -.82)
ax_c.set_yticks([])

x = np.array(win_x)/1000

#--- D ---#
ax_d = box(398, 317, 1336, 404)
spine_style(ax_d)
ax_d.plot(x, np.array(d_fst_dot)/100, ':', color=DOTRED, lw=.8, clip_on=False)
ax_d.plot(x, np.array(d_fst)/100, color=NAVY, lw=1.0, clip_on=False)
ax_d.set_ylim(0, .6)
ax_d.set_yticks([0, .2, .4])
ax_d.set_yticklabels(["0", "0.2", "0.4"])
ax_d.set_yticks([.1, .3, .5], minor=True)

#--- E ---#
ax_e = box(398, 415, 1336, 507)
spine_style(ax_e)
ax_e.plot(x, np.array(e_blue)/1000, color=BLUE, lw=.75, clip_on=False)
ax_e.plot(x, np.array(e_green)/1000, color=GREEN, lw=.75, clip_on=False)
ax_e.plot(x, np.array(e_orange)/1000, color=ORANGE, lw=.75, clip_on=False)
ax_e.set_ylim(0, .0263)
ax_e.set_yticks([0, .01, .02])
ax_e.set_yticklabels(["0", "0.01", "0.02"])

#--- F ---#
ax_f = box(398, 519, 1336, 598)
spine_style(ax_f)
ax_f.plot(x, np.array(f_orange)/10, color=ORANGE, lw=.75)
ax_f.plot(x, np.array(f_blue)/10, color=BLUE, lw=.75)
ax_f.plot(x, np.array(f_green)/10, color=GREEN, lw=.75)
ax_f.set_ylim(-2.53, 2.73)
ax_f.set_yticks([-2, 0, 2])
ax_f.set_yticklabels(["-2", "0", "2"])

#--- G ---#
ax_g = box(398, 603, 1336, 853)
paint(ax_g, g_row_base, [(g_blue_over_base, 'b')] + g_layers)
ax_g.set_xticks([])

#--- H ---#
ax_h = box(398, 857, 1336, 919.5)
spine_style(ax_h)
for i, (items, col) in enumerate(h_series):
    blocks(ax_h, i, items, col)
ax_h.set_ylim(7.9, -.79)
ax_h.set_yticks([])

#--- I ---#
ax_i = box(396.5, 927, 1334, 1034)
spine_style(ax_i)
ax_i.plot(x, np.array(i_fst_dot)/100, ':', color=DOTRED, lw=.8)
ax_i.plot(x, np.array(i_fst)/100, color=NAVY, lw=1.0)
ax_i.set_ylim(0, .713)
ax_i.set_xticks([0, .5, 1, 1.5, 2, 2.5])
ax_i.set_xticklabels(["0", "0.5", "1", "1.5", "2", "2.5"])
ax_i.set_yticks([0, .1, .3, .5])
ax_i.set_yticklabels(["0", "0.1", "0.3", "0.5"])
ax_i.set_yticks([.2, .4, .6], minor=True)
ax_i.tick_params(axis='y', labelsize=10, pad=3)
ax_i.tick_params(axis='x', labelsize=9.5, pad=0.5)

# axis titles, panel letters, brackets
for lab, lx, ly in [("A", 14, 19), ("B", 377, 37), ("C", 376, 283), ("D", 376, 309), ("E", 376, 414), ("F", 376, 521), ("G", 376, 610), ("H", 376, 862), ("I", 372, 926)]:
    ftext(lx, ly, lab, fontsize=12.5, fontweight='bold', family=['Liberation Sans', 'DejaVu Sans'])
ftext(866, 15, "Chromosome 1", fontsize=10.5)
ftext(1333, 17, "x 10", fontsize=9)
ftext(1350, 11, "7", fontsize=9)
ftext(1324, 1042, "x 10", fontsize=9.5)
ftext(1342, 1036, "7", fontsize=9.5)
ftext(355, 360, r'$F_{ST}$', fontsize=11, math_fontfamily='stix')
ftext(352, 452, r'$\hat{\theta}_P$', fontsize=13, math_fontfamily='stix')
ftext(361, 562, r'$D$', fontsize=11, math_fontfamily='stix')
ftext(355, 973, r'$F_{ST}$', fontsize=11, math_fontfamily='stix')
ftext(322, 329, r'$\mathit{K}$ = 3', rotation=90, fontsize=14)
ftext(322, 808, r'$\mathit{K}$ = 8', rotation=90, fontsize=14)
for t, b in [(25, 598), (604, 1043)]:
    fig.add_artist(plt.Line2D([339/W, 339/W], [1-t/H, 1-b/H], color='#222222', lw=1.4))
    for y in (t, b):
        fig.add_artist(plt.Line2D([332/W, 346/W], [1-y/H, 1-y/H], color='#222222', lw=1.4))

fig.savefig("out.png", dpi=100, facecolor=fig.get_facecolor())
